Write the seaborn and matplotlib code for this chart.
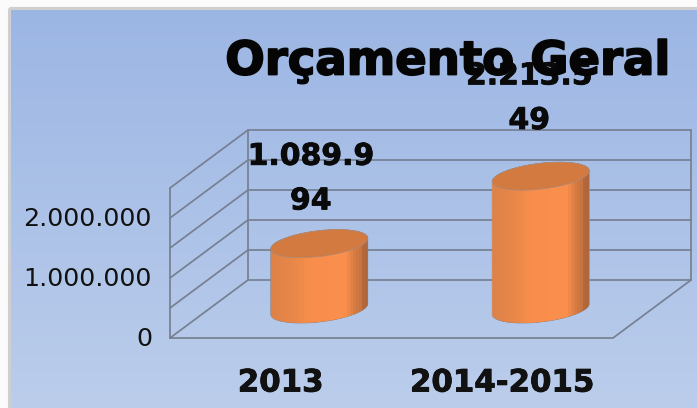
import numpy as np
import matplotlib
matplotlib.use("Agg")
import matplotlib.pyplot as plt
import matplotlib.patheffects as pe
from matplotlib.colors import to_rgb
from matplotlib.patches import Polygon, Rectangle
from matplotlib.transforms import Affine2D
import seaborn as sns

categories = ["2013", "2014-2015"]
values = [1089994, 2213549]
y_ticks = [0, 1000000, 2000000]
grid_levels = [0, 500000, 1000000, 1500000, 2000000, 2500000]
title = "Orçamento Geral"

W, H = 697, 408
sns.set_theme(style="white")
plt.rcParams["font.family"] = ["DejaVu Sans"]
fig = plt.figure(figsize=(W / 100, H / 100), dpi=100, facecolor="#fbfbfb")

# background panel with vertical gradient
bg = fig.add_axes([0, 0, 1, 1], zorder=0)
bg.set_xlim(0, W); bg.set_ylim(H, 0); bg.axis("off")
top_c, bot_c = np.array(to_rgb("#9cb6e4")), np.array(to_rgb("#bbcdeb"))
g = np.linspace(0, 1, 256)[:, None, None]
bg.imshow(top_c + (bot_c - top_c) * g, extent=(10, W, H, 9), aspect="auto", zorder=1)
bg.add_patch(Rectangle((9, 8), W, H, fc="none", ec="#cfcfcf", lw=2.2, zorder=2))
bg.set_xlim(0, W); bg.set_ylim(H, 0)

# plot axes = front plane of the 3D box
L, R, B, T = 170, 613, 338, 188
ax = fig.add_axes([L / W, 1 - B / H, (R - L) / W, (B - T) / H], zorder=1)
ax.patch.set_visible(False)
sns.barplot(x=categories, y=values, ax=ax, width=97 / 221.5, color="#ef8a49", saturation=1)
ax.set_xlim(-0.5, 1.5)
ax.set_ylim(0, 2500000)
sx, sy = 2 / (R - L), 2500000 / (B - T)
DX, DY = 78 * sx, 58 * sy

# 3D box wireframe
line = dict(color="#768092", lw=1.25, clip_on=False, zorder=1, solid_joinstyle="miter")
for lv in grid_levels:
    ax.plot([-0.5, -0.5 + DX, 1.5 + DX], [lv, lv + DY, lv + DY], **line)
ax.plot([-0.5, -0.5], [0, 2500000], **line)
ax.plot([-0.5 + DX] * 2, [DY, 2500000 + DY], **line)
ax.plot([1.5 + DX] * 2, [DY, 2500000 + DY], **line)
ax.plot([-0.5, 1.5, 1.5 + DX], [0, 0, DY], **line)

# cylinders, built on the seaborn bars
OFF_X, OFF_Y = 38.5 * sx, 29 * sy
A, VX, VY = 44.8 * sx, 18.6 * sx, 14 * sy
t0 = np.arctan2(18.6, 44.8)
stops = np.array([0, .25, .4, .78, .82, .88, .94, .96, 1.0])
cols = np.array([to_rgb(c) for c in ["#de8248", "#e98848", "#f98e4c", "#fb904e", "#ea864a",
                                     "#d47a42", "#c87440", "#b4693a", "#ae663a"]])
bands = (np.linspace(0, 1, 32) * 31).round() / 31
shade = np.stack([np.interp(bands, stops, cols[:, k]) for k in range(3)], axis=1)[None, :, :]

def ell(c, base, t):
    return np.column_stack([c + OFF_X + A * np.cos(t) + VX * np.sin(t),
                            base + OFF_Y + VY * np.sin(t)])

for i, (bar, v) in enumerate(zip(ax.patches, values)):
    c = bar.get_x() + bar.get_width() / 2
    h = bar.get_height()
    sil = np.vstack([ell(c, 0, np.linspace(t0, t0 - np.pi, 80)),
                     ell(c, h, np.linspace(t0 + np.pi, t0, 80))])
    body = Polygon(sil, closed=True, fc="none", ec="#8a7a70", lw=0.5, zorder=3, clip_on=False)
    ax.add_patch(body)
    bar.set_x(c + OFF_X - bar.get_width() / 2)
    bar.set_y(OFF_Y - 20 * sy)
    bar.set_height(h + 40 * sy)
    bar.set_clip_box(fig.bbox)
    bar.set_clip_path(body)
    bar.set_zorder(3)
    half = bar.get_width() / 2
    im = ax.imshow(shade, extent=(c + OFF_X - half, c + OFF_X + half, 0, 3500000),
                   aspect="auto", interpolation="nearest", zorder=4)
    im.set_clip_box(fig.bbox)
    im.set_clip_path(body)
    top = ell(c, h, np.linspace(0, 2 * np.pi, 120))
    ax.add_patch(Polygon(top, closed=True, fc="#d27a40", ec="#a98a7a", lw=0.5, zorder=5, clip_on=False))

ax.set_xlim(-0.5, 1.5)
ax.set_ylim(0, 2500000)

# data labels
heavy = [pe.withStroke(linewidth=0.6, foreground="#0a0a0a")]
label_off = [(30, 65), (27, 78)]
for i, v in enumerate(values):
    s = f"{v:,}".replace(",", ".")
    s = s[:7] + "\n" + s[7:]
    ax.annotate(s, (i, v), xytext=(label_off[i][0], 29 + label_off[i][1]),
                textcoords="offset pixels", ha="center", va="center",
                fontsize=21.5, fontweight="bold", color="#0a0a0a", linespacing=1.68,
                annotation_clip=False, zorder=8, path_effects=heavy)

# axes text
for s in ax.spines.values():
    s.set_visible(False)
ax.set_yticks(y_ticks)
ax.set_yticklabels([f"{t:,}".replace(",", ".") for t in y_ticks], fontsize=18.3, color="#111111")
ax.set_xticks(range(len(categories)))
ax.set_xticklabels(categories, fontsize=22.2, fontweight="bold", color="#111111",
                   path_effects=heavy)
ax.tick_params(axis="y", length=0, pad=13)
ax.tick_params(axis="x", length=0, pad=22)
nudge = Affine2D().translate(0, 1.7)
for lab in ax.get_yticklabels():
    lab.set_transform(lab.get_transform() + nudge)
ax.set_xlabel(""); ax.set_ylabel("")
ax.grid(False)
fig.text(447.5 / W, 1 - 74.5 / H, title, ha="center", va="baseline",
         fontsize=33.5, fontweight="bold", color="#050505", zorder=10,
         path_effects=[pe.withStroke(linewidth=1.3, foreground="#050505")])

fig.savefig("out.png", dpi=100)
